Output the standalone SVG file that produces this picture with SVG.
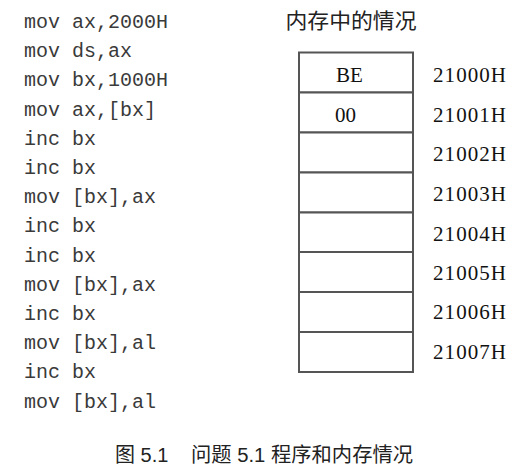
<svg xmlns="http://www.w3.org/2000/svg" width="513" height="470" viewBox="0 0 513 470">
  <style>
    .code { font-family: "Liberation Mono", "Courier New", monospace; font-size: 20px; fill: #3a3a3a; }
    .serif { font-family: "Liberation Serif", "Times New Roman", "Noto Sans CJK SC", serif; font-size: 21px; fill: #111; }
    .title { font-family: "Noto Sans CJK SC", sans-serif; font-size: 21px; fill: #222; }
    .caption { font-family: "Liberation Sans", "Noto Sans CJK SC", sans-serif; font-size: 20px; fill: #222; }
    .cell { fill: #fff; stroke: #555; stroke-width: 2; }
  </style>
  <rect width="513" height="470" fill="#fff"/>

  <!-- assembly program -->
  <g id="program" class="code">
    <text x="24" y="28">mov ax,2000H</text>
    <text x="24" y="57.2">mov ds,ax</text>
    <text x="24" y="86.4">mov bx,1000H</text>
    <text x="24" y="115.6">mov ax,[bx]</text>
    <text x="24" y="144.8">inc bx</text>
    <text x="24" y="174">inc bx</text>
    <text x="24" y="203.2">mov [bx],ax</text>
    <text x="24" y="232.4">inc bx</text>
    <text x="24" y="261.6">inc bx</text>
    <text x="24" y="290.8">mov [bx],ax</text>
    <text x="24" y="320">inc bx</text>
    <text x="24" y="349.2">mov [bx],al</text>
    <text x="24" y="378.4">inc bx</text>
    <text x="24" y="407.6">mov [bx],al</text>
  </g>

  <!-- memory column -->
  <text class="title" x="351" y="28" text-anchor="middle" textLength="131" lengthAdjust="spacingAndGlyphs">内存中的情况</text>
  <g id="memory">
    <g id="cell-21000"><rect class="cell" x="299" y="52.5" width="114" height="40"/><text class="serif" x="336" y="82">BE</text><text class="serif" x="433" y="82.3" textLength="73">21000H</text></g>
    <g id="cell-21001"><rect class="cell" x="299" y="92.5" width="114" height="40"/><text class="serif" x="335" y="121.7">00</text><text class="serif" x="433" y="121.7" textLength="73">21001H</text></g>
    <g id="cell-21002"><rect class="cell" x="299" y="132.5" width="114" height="40"/><text class="serif" x="433" y="161.1" textLength="73">21002H</text></g>
    <g id="cell-21003"><rect class="cell" x="299" y="172.5" width="114" height="40"/><text class="serif" x="433" y="200.5" textLength="73">21003H</text></g>
    <g id="cell-21004"><rect class="cell" x="299" y="212.5" width="114" height="39.5"/><text class="serif" x="433" y="240.7" textLength="73">21004H</text></g>
    <g id="cell-21005"><rect class="cell" x="299" y="252" width="114" height="40"/><text class="serif" x="433" y="280" textLength="73">21005H</text></g>
    <g id="cell-21006"><rect class="cell" x="299" y="292" width="114" height="40"/><text class="serif" x="433" y="319.3" textLength="73">21006H</text></g>
    <g id="cell-21007"><rect class="cell" x="299" y="332" width="114" height="40"/><text class="serif" x="433" y="358.5" textLength="73">21007H</text></g>
  </g>

  <!-- figure caption -->
  <g id="caption" class="caption">
    <text x="115" y="461.5">图 5.1</text>
    <text x="191" y="461.5" textLength="222" lengthAdjust="spacingAndGlyphs">问题 5.1 程序和内存情况</text>
  </g>
</svg>
